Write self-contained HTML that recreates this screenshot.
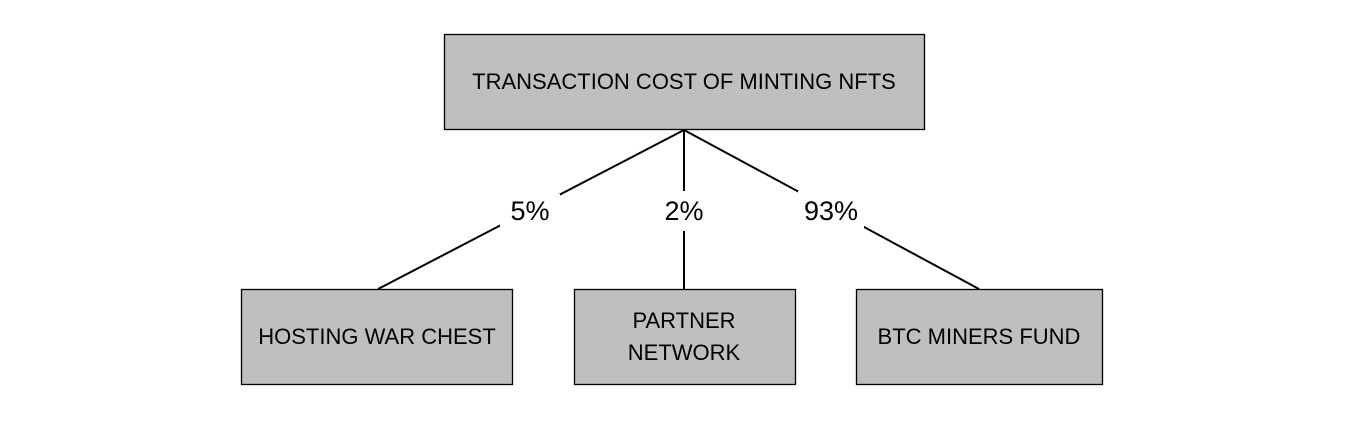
<!DOCTYPE html>
<html><head><style>
html,body{margin:0;padding:0;background:#fff;}
</style></head><body>
<svg width="1346" height="434" xmlns="http://www.w3.org/2000/svg" font-family="Liberation Sans, sans-serif">
<rect width="1346" height="434" fill="#fff"/>
<g stroke="#000" stroke-width="2">
<line x1="684" y1="130" x2="378" y2="289"/>
<line x1="684" y1="130" x2="684" y2="289"/>
<line x1="684" y1="130" x2="979" y2="289"/>
</g>
<g fill="#fff">
<rect x="500" y="194" width="60" height="34"/>
<rect x="656" y="191" width="56" height="40"/>
<rect x="798" y="191" width="66" height="40"/>
</g>
<g fill="#bfbfbf" stroke="#000" stroke-width="1.3">
<rect x="444.5" y="34.5" width="480" height="95"/>
<rect x="241.5" y="289.5" width="271" height="95"/>
<rect x="574.5" y="289.5" width="221" height="95"/>
<rect x="856.5" y="289.5" width="246" height="95"/>
</g>
<g fill="#000" font-size="22" text-anchor="middle">
<text x="684" y="89">TRANSACTION COST OF MINTING NFTS</text>
<text x="377" y="344">HOSTING WAR CHEST</text>
<text x="684" y="328">PARTNER</text>
<text x="684" y="360">NETWORK</text>
<text x="979" y="344">BTC MINERS FUND</text>
<text x="530" y="220" font-size="27">5%</text>
<text x="684" y="220" font-size="27">2%</text>
<text x="831" y="220" font-size="27">93%</text>
</g>
</svg>
</body></html>
